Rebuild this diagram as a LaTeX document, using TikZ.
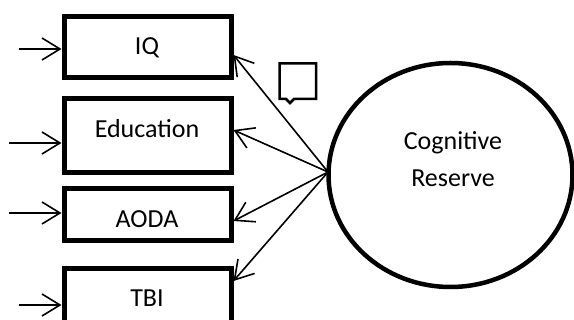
\documentclass[tikz,border=0pt]{standalone}
\usepackage{fontspec}
\setmainfont{Carlito}
\usetikzlibrary{arrows.meta,shapes.geometric}
\tikzset{
  box/.style={draw, line width=5pt, minimum width=167pt, inner sep=0pt},
  lbl/.style={font=\fontsize{26}{30}\selectfont, inner sep=0pt},
  arr/.style={line width=1.6pt, -{Straight Barb[length=18pt,width=22pt,line width=1.6pt]}},
}
\begin{document}
\begin{tikzpicture}[x=1pt,y=-1pt]
\useasboundingbox (0,0) rectangle (574,320);
% boxes
\node[box, minimum height=61pt] (iq) at (147.5,47.5) {};
\node[box, minimum height=74pt] (edu) at (147.5,136) {};
\node[box, minimum height=52pt] (aoda) at (147.5,215) {};
\node[box, minimum height=64pt] (tbi) at (147.5,301) {};
\node[lbl] (iqt) at (147,48) {IQ};
\node[lbl] (edut) at (147,129) {Education};
\node[lbl] (aodat) at (147,219) {AODA};
\node[lbl] (tbit) at (147,298) {TBI};
% ellipse
\node[draw, ellipse, line width=4.5pt, minimum width=244pt, minimum height=224pt, inner sep=0pt] (cr) at (450.5,175) {};
\node[lbl, align=center] (crt) at (453,159) {Cognitive\\[7pt]Reserve};
% input arrows
\coordinate (iqin) at (19,49);
\coordinate (eduin) at (9,143);
\coordinate (aodain) at (9,213);
\coordinate (tbiin) at (19,305);
\draw[arr] (iqin) -- (iq.west |- iqin);
\draw[arr] (eduin) -- (edu.west |- eduin);
\draw[arr] (aodain) -- (aoda.west |- aodain);
\draw[arr] (tbiin) -- (tbi.west |- tbiin);
% loadings
\coordinate (src) at (328,172);
\draw[arr] (src) -- (iq.east |- 0,55);
\draw[arr] (src) -- (edu.east |- 0,130);
\draw[arr] (src) -- (aoda.east |- 0,221);
\draw[arr] (src) -- (tbi.east |- 0,281);
% comment icon
\draw[line width=2.5pt] (279.5,63.5) -- (316,63.5) -- (316,99) -- (294,99) -- (290,103) -- (286,99) -- (279.5,99) -- cycle;
\end{tikzpicture}
\end{document}
